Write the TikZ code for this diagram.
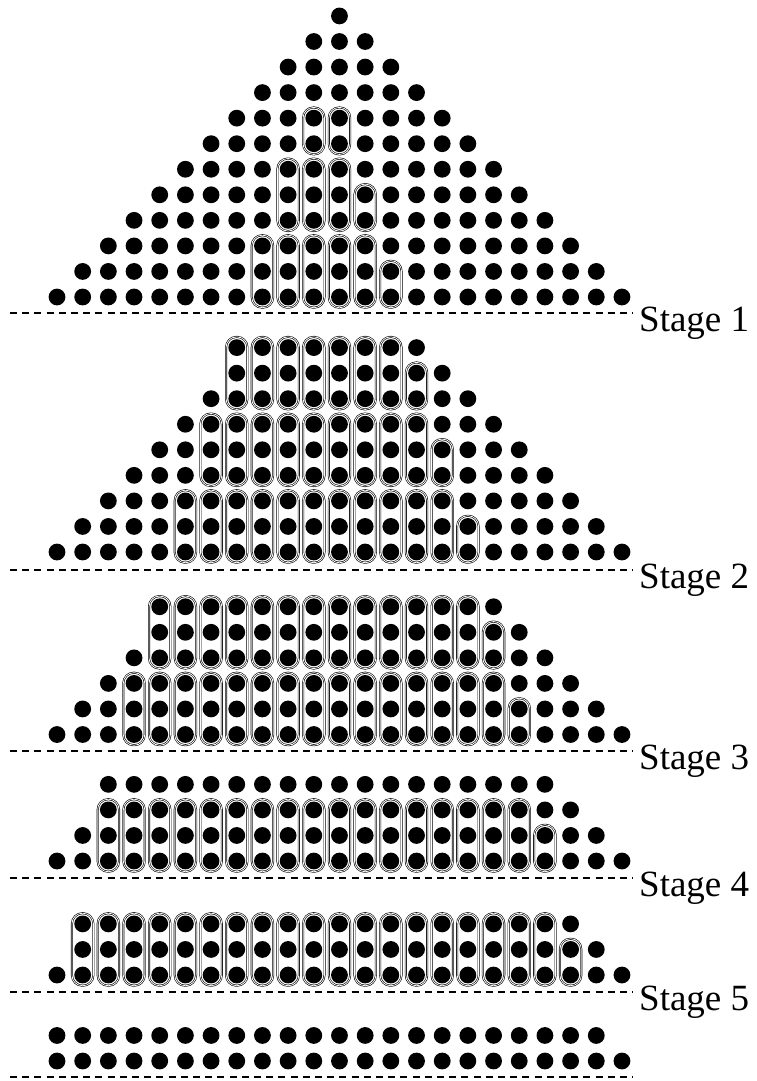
\documentclass[tikz,border=0pt]{standalone}
\usepackage{fontspec}
\setmainfont{Liberation Serif}
\usetikzlibrary{fit}

% column pitch and row pitch of the dot matrix
\def\dx{25.68}
\def\dy{25.55}

% #1 stage name, #2 y of the bottom row, #3 column heights (left to right)
\newcommand\dotstage[3]{%
  \foreach \h [count=\c from 0] in {#3}{%
    \foreach \r in {1,...,\h}{%
      \pgfmathtruncatemacro\k{\r-1}%
      \node[dot] (#1-\c-\k) at ({57+\dx*\c},{#2-\dy*\k}) {};
    }}}

% #1 stage name, #2 list of column/first row/number of dots in each adder
\newcommand\adders[2]{%
  \foreach \c/\r/\n in {#2}{%
    \pgfmathtruncatemacro\e{\r+\n-1}%
    \node[adder,fit=(#1-\c-\r)(#1-\c-\e)] (#1a-\c-\r) {};
  }}

% #1 stage name, #2 y of the dashed line, #3 label text
\newcommand\stageline[3]{%
  \coordinate (#1l) at (10,#2);
  \coordinate (#1r) at (633,#2);
  \draw[sepline] (#1l) -- (#1r);
  \ifx\relax#3\relax\else
    \node[lbl] (#1t) at (639,{#2+18}) {#3};
  \fi}

\begin{document}
\begin{tikzpicture}[x=1pt,y=-1pt,
  dot/.style={circle,fill=black,inner sep=0pt,minimum size=16.8pt},
  adder/.style={draw=black,line width=0.6pt,double=white,double distance=0.8pt,
                rounded corners=10.4pt,inner sep=2.1pt},
  sepline/.style={line width=2.8pt,dash pattern=on 7pt off 5.2pt},
  lbl/.style={font=\fontsize{37}{42}\selectfont,inner sep=0pt,anchor=base west}]
\useasboundingbox (0,0) rectangle (756,1081);

% Stage 1: 12 x 12 partial products
\dotstage{s1}{297}{1,2,3,4,5,6,7,8,9,10,11,12,11,10,9,8,7,6,5,4,3,2,1}
\adders{s1}{8/0/3, 9/0/3, 9/3/3, 10/0/3, 10/3/3, 10/6/2, 11/0/3, 11/3/3, 11/6/2,
            12/0/3, 12/3/2, 13/0/2}
\stageline{s1}{313}{Stage 1}

% Stage 2: height 9
\dotstage{s2}{552}{1,2,3,4,5,6,7,9,9,9,9,9,9,9,9,8,7,6,5,4,3,2,1}
\adders{s2}{5/0/3, 6/0/3, 6/3/3,
            7/0/3, 7/3/3, 7/6/3, 8/0/3, 8/3/3, 8/6/3, 9/0/3, 9/3/3, 9/6/3,
            10/0/3, 10/3/3, 10/6/3, 11/0/3, 11/3/3, 11/6/3, 12/0/3, 12/3/3, 12/6/3,
            13/0/3, 13/3/3, 13/6/3, 14/0/3, 14/3/3, 14/6/2,
            15/0/3, 15/3/2, 16/0/2}
\stageline{s2}{570}{Stage 2}

% Stage 3: height 6
\dotstage{s3}{734.5}{1,2,3,4,6,6,6,6,6,6,6,6,6,6,6,6,6,6,5,4,3,2,1}
\adders{s3}{3/0/3,
            4/0/3, 4/3/3, 5/0/3, 5/3/3, 6/0/3, 6/3/3, 7/0/3, 7/3/3, 8/0/3, 8/3/3,
            9/0/3, 9/3/3, 10/0/3, 10/3/3, 11/0/3, 11/3/3, 12/0/3, 12/3/3,
            13/0/3, 13/3/3, 14/0/3, 14/3/3, 15/0/3, 15/3/3, 16/0/3, 16/3/3,
            17/0/3, 17/3/2, 18/0/2}
\stageline{s3}{751}{Stage 3}

% Stage 4: height 4
\dotstage{s4}{861}{1,2,4,4,4,4,4,4,4,4,4,4,4,4,4,4,4,4,4,4,3,2,1}
\adders{s4}{2/0/3, 3/0/3, 4/0/3, 5/0/3, 6/0/3, 7/0/3, 8/0/3, 9/0/3, 10/0/3,
            11/0/3, 12/0/3, 13/0/3, 14/0/3, 15/0/3, 16/0/3, 17/0/3, 18/0/3, 19/0/2}
\stageline{s4}{878}{Stage 4}

% Stage 5: height 3
\dotstage{s5}{975}{1,3,3,3,3,3,3,3,3,3,3,3,3,3,3,3,3,3,3,3,3,2,1}
\adders{s5}{1/0/3, 2/0/3, 3/0/3, 4/0/3, 5/0/3, 6/0/3, 7/0/3, 8/0/3, 9/0/3, 10/0/3,
            11/0/3, 12/0/3, 13/0/3, 14/0/3, 15/0/3, 16/0/3, 17/0/3, 18/0/3, 19/0/3, 20/0/2}
\stageline{s5}{992}{Stage 5}

% final two rows
\dotstage{s6}{1061}{2,2,2,2,2,2,2,2,2,2,2,2,2,2,2,2,2,2,2,2,2,2,1}
\stageline{s6}{1077}{}
\end{tikzpicture}
\end{document}
